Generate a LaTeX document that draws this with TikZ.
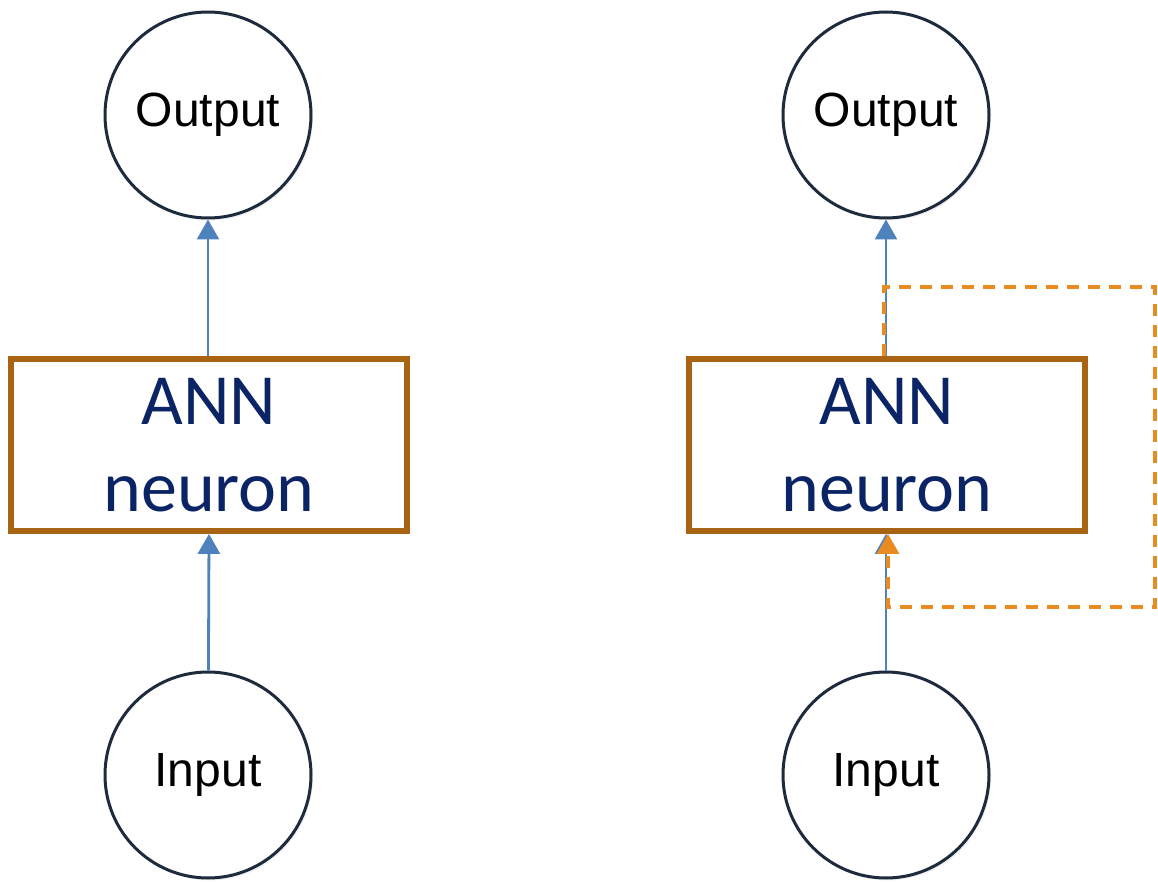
\documentclass[tikz,border=0pt]{standalone}
\usepackage{fontspec}
\setmainfont{Liberation Sans}
\newfontfamily\calibrifont{Carlito}
\usetikzlibrary{arrows.meta,shadows}
\definecolor{navyline}{HTML}{1E2B3C}
\definecolor{linkblue}{HTML}{4F81BD}
\definecolor{boxbrown}{HTML}{A86412}
\definecolor{loopor}{HTML}{E88B21}
\definecolor{textnavy}{HTML}{0B2465}
\tikzset{
  io/.style={circle, draw=navyline, line width=1.5pt, fill=white,
    minimum size=103pt, inner sep=0pt, font=\fontsize{24}{28}\selectfont,
    drop shadow={opacity=0.12, shadow xshift=1pt, shadow yshift=-1.2pt}},
  neuron/.style={rectangle, draw=boxbrown, line width=2.9pt, fill=white,
    minimum width=198pt, minimum height=86pt, inner sep=0pt, align=center,
    text=textnavy, font=\calibrifont\fontsize{36}{43.5}\selectfont},
  link/.style={draw=linkblue, line width=1.4pt,
    -{Triangle[length=10pt,width=11pt]}},
  loop/.style={draw=loopor, line width=1.6pt, dash pattern=on 6pt off 4.5pt,
    -{Triangle[length=10pt,width=11pt,fill=loopor]}}
}
\begin{document}
\begin{tikzpicture}[x=0.5pt,y=-0.5pt]
  \useasboundingbox (0,0) rectangle (1158,882);
  % feed-forward neuron
  \node[io] (outL) at (208,115) {Output};
  \node[neuron] (annL) at (209,445) {ANN\\neuron};
  \node[io] (inL) at (208,775) {Input};
  \draw[link] (inL) -- (annL.south);
  \draw[link] (annL.north -| outL) -- (outL);
  % recurrent neuron
  \node[io] (outR) at (886,115) {Output};
  \node[neuron] (annR) at (887,445) {ANN\\neuron};
  \node[io] (inR) at (886,775) {Input};
  \draw[link] (inR) -- (annR.south -| inR);
  \draw[link] (annR.north -| outR) -- (outR);
  % feedback loop
  \coordinate (fbA) at (884,287);
  \coordinate (fbB) at (1155,287);
  \coordinate (fbC) at (1155,607);
  \coordinate (fbD) at (888,607);
  \draw[loop] (annR.north -| fbA) -- (fbA) -- (fbB) -- (fbC) -- (fbD) -- (annR.south -| fbD);
\end{tikzpicture}
\end{document}
